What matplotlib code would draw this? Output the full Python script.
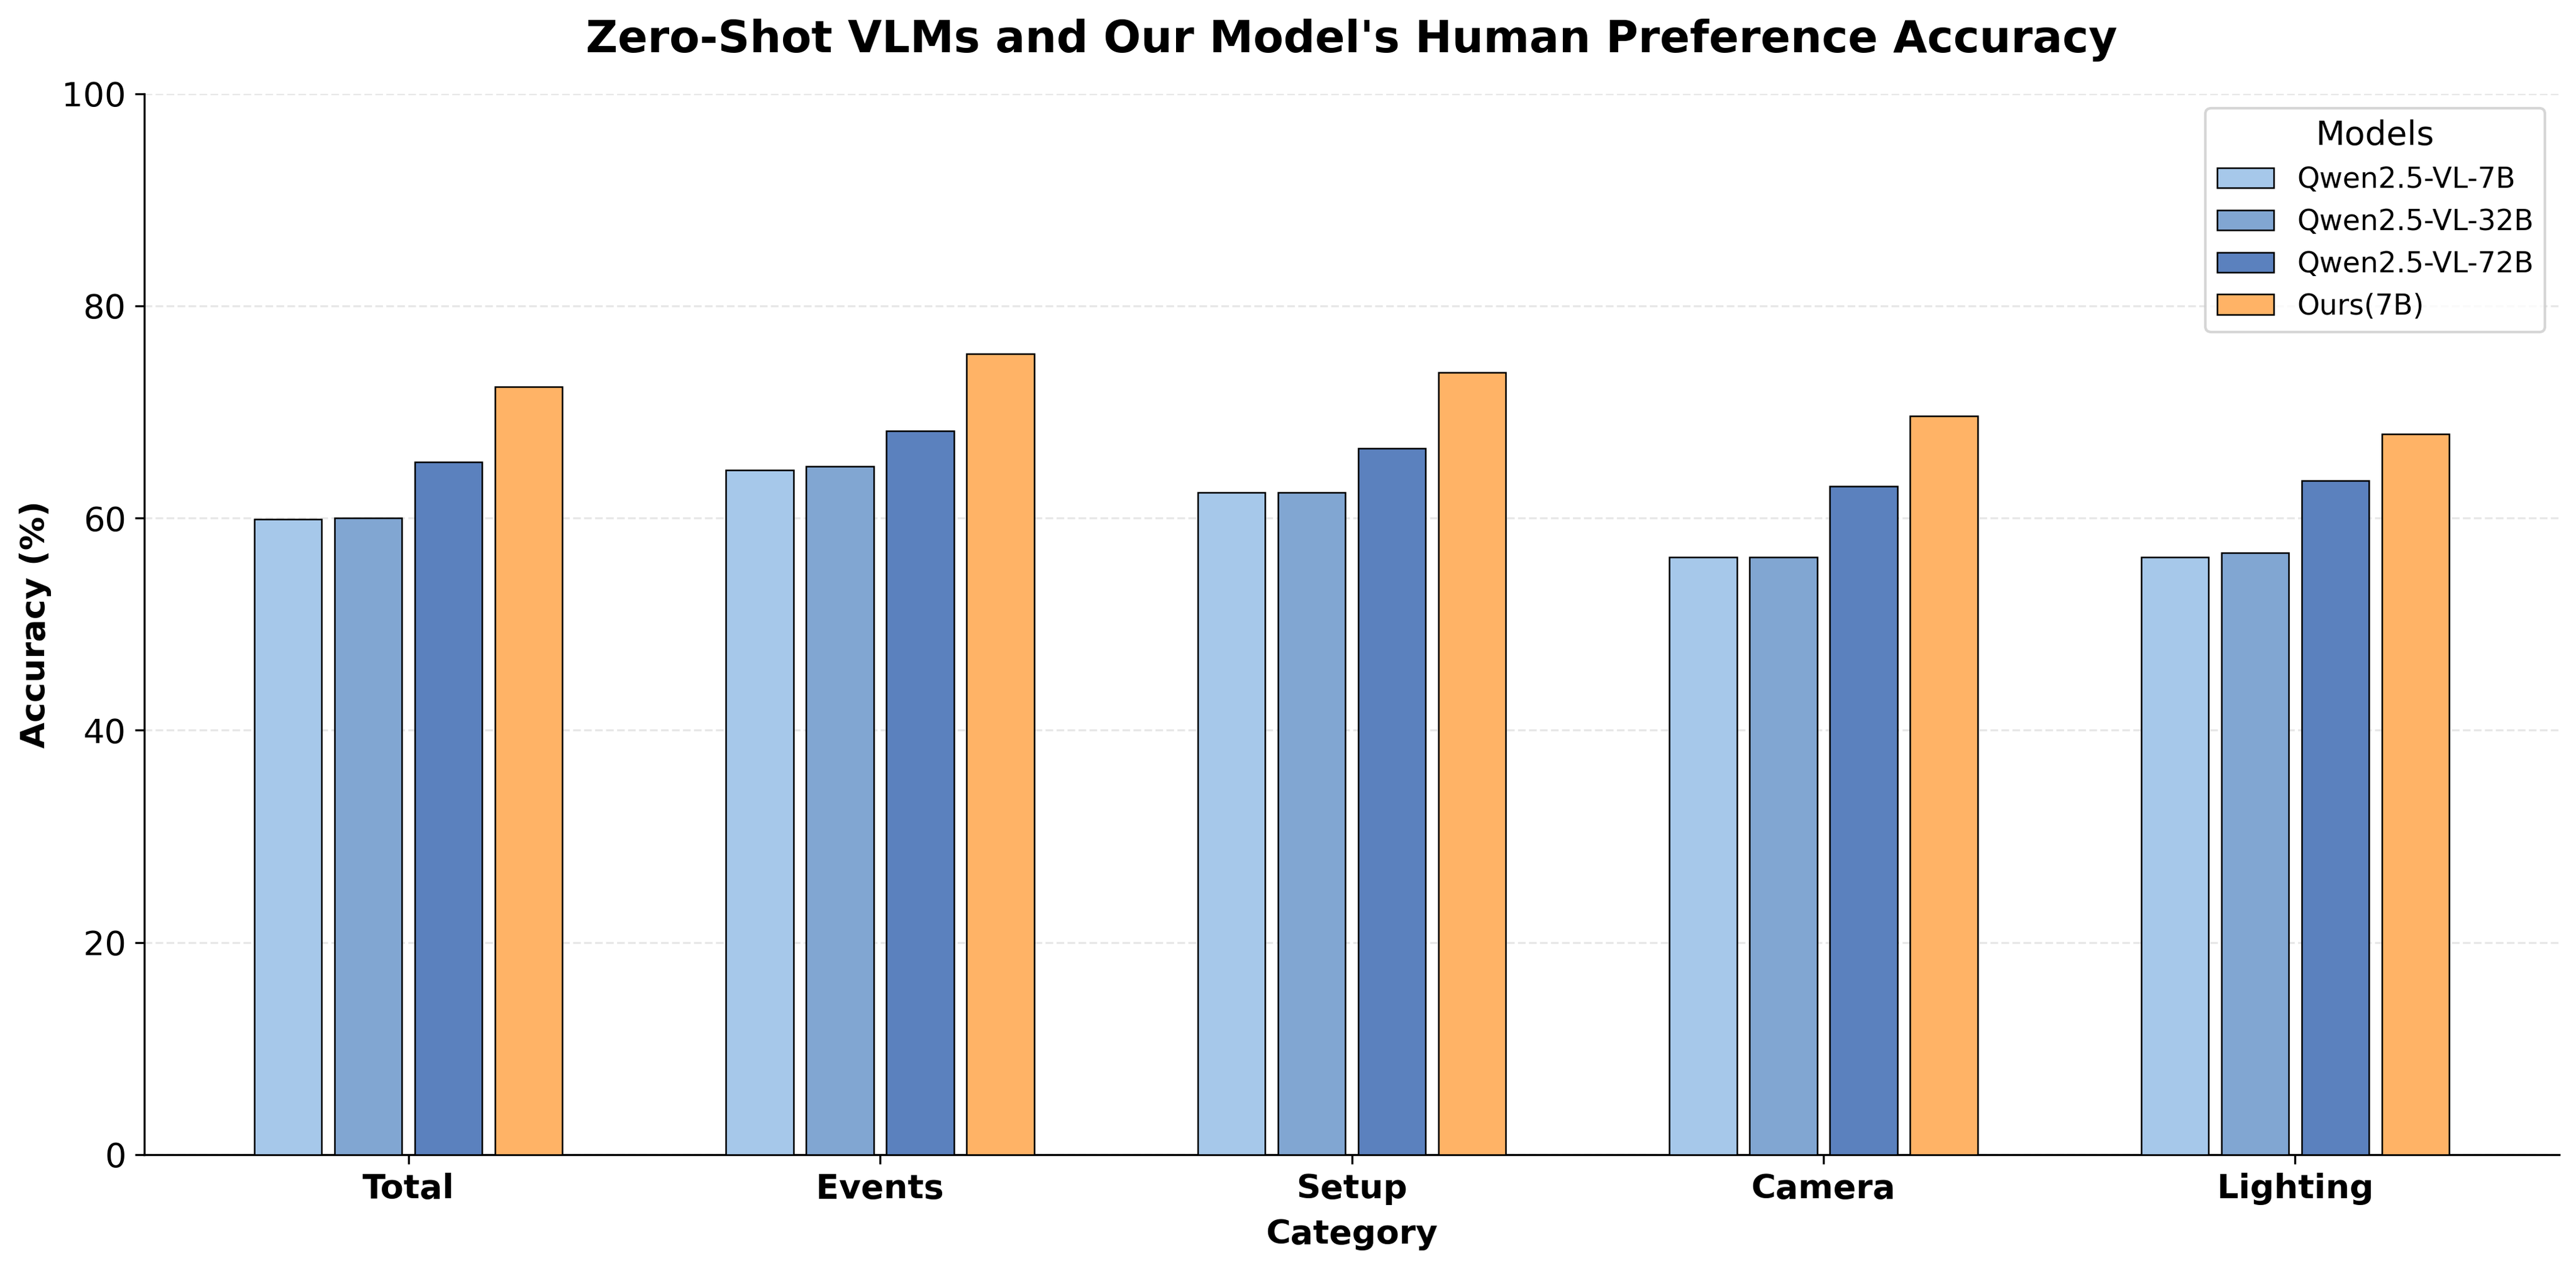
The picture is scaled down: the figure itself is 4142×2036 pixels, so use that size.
import numpy as np
import matplotlib
matplotlib.use("Agg")
import matplotlib.pyplot as plt

# ----------- Data -----------
categories = ["Total", "Events", "Setup", "Camera", "Lighting"]
models = ["Qwen2.5-VL-7B", "Qwen2.5-VL-32B", "Qwen2.5-VL-72B", "Ours(7B)"]

qwen_7b = [59.9, 64.5, 62.4, 56.3, 56.3]
qwen_32b = [60.0, 64.9, 62.4, 56.3, 56.7]
qwen_72b = [65.3, 68.2, 66.6, 63.0, 63.5]
ours_7b = [72.4, 75.5, 73.7, 69.6, 67.9]

colors = ["#a6c8ea", "#81a6d2", "#5b81be", "#ffb366"]

# ----------- Plot -----------
fig, ax = plt.subplots(figsize=(4142 / 300, 2036 / 300), dpi=300)
fig.subplots_adjust(left=0.056, right=0.9935, top=0.926, bottom=0.088)

x = np.arange(len(categories))
pitch = 0.17
width = 0.143
series = [qwen_7b, qwen_32b, qwen_72b, ours_7b]
for i, (vals, name, c) in enumerate(zip(series, models, colors)):
    offset = (i - 1.5) * pitch
    ax.bar(x + offset, vals, width, label=name, color=c,
           edgecolor="black", linewidth=0.6, zorder=3)

ax.set_title("Zero-Shot VLMs and Our Model's Human Preference Accuracy",
             fontsize=17, fontweight="bold", pad=16)
ax.set_xlabel("Category", fontsize=13, fontweight="bold", labelpad=5)
ax.set_ylabel("Accuracy (%)", fontsize=13, fontweight="bold")
ax.set_xticks(x)
ax.set_xticklabels(categories, fontsize=13, fontweight="bold")
ax.tick_params(axis="y", labelsize=13)
ax.set_ylim(0, 100)
ax.set_xlim(-0.56, 4.56)

ax.grid(axis="y", linestyle="--", color="#dddddd", alpha=0.7, zorder=0)
ax.spines["top"].set_visible(False)
ax.spines["right"].set_visible(False)

leg = ax.legend(title="Models", fontsize=11, title_fontsize=13,
                loc="upper right", frameon=True)
leg.get_frame().set_edgecolor("#cccccc")

plt.savefig("out.png", dpi=300)
